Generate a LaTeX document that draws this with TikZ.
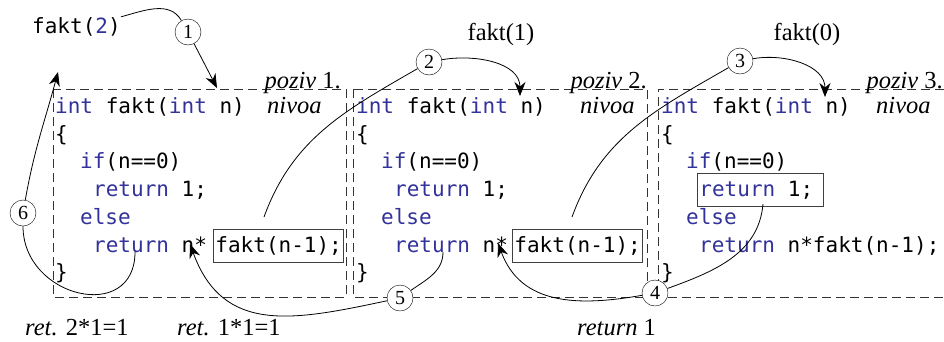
\documentclass[tikz,border=0pt]{standalone}
\usepackage{fontspec}
\setmainfont{Liberation Serif}
\setmonofont{DejaVu Sans Mono}
\usetikzlibrary{arrows.meta,positioning}
\definecolor{kwblue}{RGB}{50,50,155}
\newcommand{\kw}[1]{\textcolor{kwblue}{#1}}

\begin{document}
\begin{tikzpicture}[x=1pt,y=1pt,
every node/.style={inner sep=0},
code/.style={anchor=base west,font=\fontsize{21}{27}\ttfamily},
lbl/.style={font=\fontsize{24.5}{28}\selectfont},
num/.style={circle,draw,fill=white,minimum size=26pt,font=\fontsize{20}{20}\selectfont},
boxed/.style={draw=black!75,line width=0.9pt,inner xsep=2pt,inner ysep=7pt},
frame/.style={dash pattern=on 9pt off 5pt,line width=0.9pt,black!80},
conn/.style={line width=0.8pt},
arr/.style={conn,-{Stealth[length=14pt,width=11pt]}}]
\useasboundingbox (0,0) rectangle (944,-341);
% frames of the three calls
\draw[frame] (53,-89) rectangle (346,-297);
\draw[frame] (353,-89) rectangle (647,-297);
\draw[frame] (944,-89) -- (658,-89) -- (658,-297) -- (944,-297);
% level 1
\node[code] (h1) at (55,-113) {\kw{int} fakt(\kw{int} n)};
\node[code] (o1) at (55,-141) {\{};
\node[code] (i1) at (80,-168) {\kw{if}(n==0)};
\node[code] (p1) at (93,-196) {\kw{return} 1;};
\node[code] (e1) at (80,-224) {\kw{else}};
\node[code] (r1) at (93,-252) {\kw{return} n*};
\node[code,boxed] (f1) at (213,-252) {fakt(n-1);};
\node[code] (z1) at (55,-279) {\}};
% level 2
\node[code] (h2) at (356,-113) {\kw{int} fakt(\kw{int} n)};
\node[code] (o2) at (356,-141) {\{};
\node[code] (i2) at (381,-168) {\kw{if}(n==0)};
\node[code] (p2) at (394,-196) {\kw{return} 1;};
\node[code] (e2) at (381,-224) {\kw{else}};
\node[code] (r2) at (394,-252) {\kw{return} n*};
\node[code,boxed] (f2) at (512,-252) {fakt(n-1);};
\node[code] (z2) at (356,-279) {\}};
% level 3
\node[code] (h3) at (661,-113) {\kw{int} fakt(\kw{int} n)};
\node[code] (o3) at (661,-141) {\{};
\node[code] (i3) at (686,-168) {\kw{if}(n==0)};
\node[code,boxed] (p3) at (697,-196) {\kw{return} 1;\hspace*{8pt}};
\node[code] (e3) at (686,-224) {\kw{else}};
\node[code] (r3) at (699,-252) {\kw{return} n*fakt(n-1);};
\node[code] (z3) at (661,-279) {\}};
% labels
\node[lbl,anchor=base west] (n1) at (267,-113) {\itshape nivoa};
\node[lbl,anchor=base west] (n2) at (580,-113) {\itshape nivoa};
\node[lbl,anchor=base west] (n3) at (876,-113) {\itshape nivoa};
\node[lbl,anchor=base east] (v1) at (341,-88) {\textit{poziv} 1.};
\node[lbl,anchor=base east] (v2) at (647,-88) {\textit{poziv} 2.};
\node[lbl,anchor=base east] (v3) at (943,-88) {\textit{poziv} 3.};
\node[code] (call2) at (32,-33) {fakt(\kw{2})};
\node[lbl,anchor=base] (a1) at (501,-40) {fakt(1)};
\node[lbl,anchor=base] (a0) at (807,-40) {fakt(0)};
\node[lbl,anchor=base west] (b1) at (25,-335) {\textit{ret.} 2*1=1};
\node[lbl,anchor=base west] (b2) at (177,-335) {\textit{ret.} 1*1=1};
\node[lbl,anchor=base west] (b3) at (577,-335) {\textit{return} 1};
% steps
\node[num] (c1) at (188,-32) {1};
\node[num] (c2) at (429,-62) {2};
\node[num] (c3) at (740,-61) {3};
\node[num] (c4) at (655,-293) {4};
\node[num] (c5) at (400,-298) {5};
\node[num] (c6) at (23,-213) {6};
\coordinate (t1) at (217,-88);
\coordinate (t2) at (520,-96);
\coordinate (t3) at (825,-97);
\coordinate (t4) at (498,-243);
\coordinate (t5) at (190,-244);
\coordinate (t6) at (58,-72);
\coordinate (s2) at (264,-217);
\coordinate (s3) at (572,-217);
\coordinate (s4) at (763,-204);
\coordinate (s5) at (443,-252);
\coordinate (s6) at (135,-252);
% calls
\draw[conn] (call2.north east) to[out=15,in=120] (c1);
\draw[arr] (c1) -- (t1);
\draw[conn] (s2) to[out=70,in=210] (c2);
\draw[arr] (c2) to[out=10,in=90] (t2);
\draw[conn] (s3) to[out=70,in=210] (c3);
\draw[arr] (c3) to[out=10,in=90] (t3);
% returns
\draw[conn] (s4) to[out=-95,in=20] (c4);
\draw[arr] (c4) to[out=190,in=-70,looseness=1.1] (t4);
\draw[conn] (s5) to[out=-90,in=35] (c5);
\draw[arr] (c5) to[out=192,in=-70,looseness=1.2] (t5);
\draw[conn] (s6) to[out=-90,in=-90,looseness=1.6] (c6);
\draw[arr] (c6) to[out=80,in=-105] (t6);
\end{tikzpicture}
\end{document}
